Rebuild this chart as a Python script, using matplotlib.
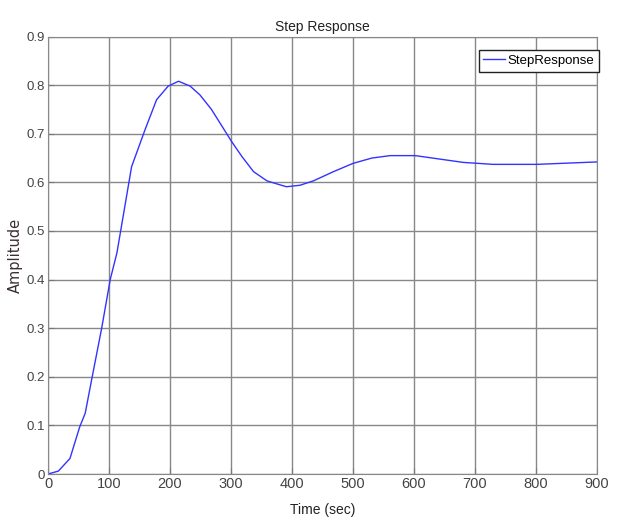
import numpy as np
import matplotlib.pyplot as plt

# step response samples (time in sec, amplitude)
t = [0, 17, 36, 52, 61, 72, 88, 102, 113, 137, 159, 178, 197, 214, 233, 249,
     268, 301, 318, 337, 359, 380, 391, 413, 435, 468, 500, 531, 561, 602,
     681, 730, 801, 900]
y = [0.0, 0.006, 0.032, 0.097, 0.125, 0.197, 0.30, 0.40, 0.455, 0.632, 0.708,
     0.77, 0.798, 0.808, 0.798, 0.78, 0.75, 0.684, 0.653, 0.622, 0.603, 0.595,
     0.591, 0.594, 0.603, 0.622, 0.639, 0.650, 0.655, 0.655, 0.641, 0.637,
     0.637, 0.642]

xticks = np.arange(0, 901, 100)
yticks = np.round(np.arange(0, 0.91, 0.1), 1)

plt.rcParams['font.family'] = ['Liberation Sans', 'DejaVu Sans']

fig = plt.figure(figsize=(6.21, 5.21), dpi=100)
ax = fig.add_axes([0.0773, 0.0902, 0.884, 0.8397])

ax.plot(t, y, color='#3333ff', lw=1.0, label='StepResponse')

ax.set_xlim(0, 900)
ax.set_ylim(0, 0.9)
ax.set_xticks(xticks)
ax.set_yticks(yticks)
ax.set_xticklabels([str(v) for v in xticks])
ax.set_yticklabels(['0'] + [f'{v:g}' for v in yticks[1:]])
ax.tick_params(direction='in', length=4, colors='#777777', labelcolor='#444444',
               pad=2)
ax.tick_params(axis='x', labelsize=10.5)
ax.tick_params(axis='y', labelsize=9.5)
ax.grid(True, color='#888888', lw=1.0)
for s in ax.spines.values():
    s.set_color('#888888')

ax.set_title('Step Response', fontsize=10, color='#222222', pad=4)
ax.set_xlabel('Time (sec)', fontsize=10, color='#222222')
ax.xaxis.set_label_coords(0.5, -0.066)
ax.set_ylabel('Amplitude', fontsize=10.5, color='#3a3030',
              family=['DejaVu Sans'])
ax.yaxis.set_label_coords(-0.045, 0.5)

leg = ax.legend(loc='upper right', bbox_to_anchor=(1.003, 0.969),
                borderaxespad=0, fontsize=9.5, frameon=True, fancybox=False,
                handlelength=1.6, handletextpad=0.2, borderpad=0.35)
leg.get_frame().set_edgecolor('#222222')
leg.get_frame().set_linewidth(1.0)
leg.get_frame().set_alpha(1)

fig.savefig('out.png', dpi=100)
